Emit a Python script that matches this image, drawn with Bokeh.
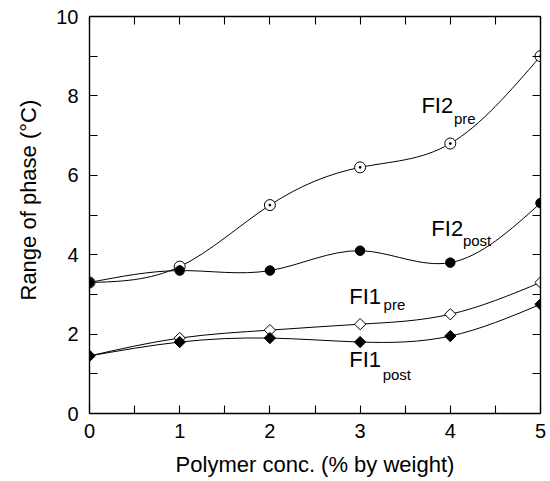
import numpy as np
from bokeh.plotting import figure
from bokeh.models import Range1d, LinearAxis, FixedTicker, Label, Title
from bokeh.embed import file_html
from bokeh.resources import INLINE

# ---- data ----
conc = [0, 1, 2, 3, 4, 5]
fi2_pre = [3.3, 3.7, 5.25, 6.2, 6.8, 9.0]
fi2_post = [3.3, 3.6, 3.6, 4.1, 3.8, 5.3]
fi1_pre = [1.45, 1.9, 2.1, 2.25, 2.5, 3.3]
fi1_post = [1.45, 1.8, 1.9, 1.8, 1.95, 2.75]
x_major = [0, 1, 2, 3, 4, 5]
x_minor = [0.5, 1.5, 2.5, 3.5, 4.5]
y_major = [0, 2, 4, 6, 8, 10]
y_minor = [1, 3, 5, 7, 9]
x_title = "Polymer conc. (% by weight)"
y_title = "Range of phase (°C)"

FONT = "Liberation Sans"


def spline_beziers(x, y):
    """Natural cubic spline through the points, returned as cubic Bezier segments."""
    x = np.asarray(x, float)
    y = np.asarray(y, float)
    n = len(x) - 1
    h = np.diff(x)
    A = np.zeros((n + 1, n + 1))
    r = np.zeros(n + 1)
    A[0, 0] = 1.0
    A[n, n] = 1.0
    for i in range(1, n):
        A[i, i - 1] = h[i - 1]
        A[i, i] = 2 * (h[i - 1] + h[i])
        A[i, i + 1] = h[i]
        r[i] = 6 * ((y[i + 1] - y[i]) / h[i] - (y[i] - y[i - 1]) / h[i - 1])
    M = np.linalg.solve(A, r)
    s = (y[1:] - y[:-1]) / h
    dl = s - h * (2 * M[:-1] + M[1:]) / 6
    dr = s + h * (M[:-1] + 2 * M[1:]) / 6
    return dict(
        x0=x[:-1], y0=y[:-1], x1=x[1:], y1=y[1:],
        cx0=x[:-1] + h / 3, cy0=y[:-1] + h / 3 * dl,
        cx1=x[1:] - h / 3, cy1=y[1:] - h / 3 * dr,
    )


p = figure(
    width=550, height=481,
    x_range=Range1d(0, 5), y_range=Range1d(0, 10),
    output_backend="svg", toolbar_location=None,
    min_border_left=89, min_border_right=10,
    min_border_top=16, min_border_bottom=68,
    x_axis_location=None, y_axis_location=None,
)
p.xgrid.visible = False
p.ygrid.visible = False
p.outline_line_color = None
p.background_fill_color = "white"
p.border_fill_color = "white"


def style_axis(ax, show_labels):
    ax.axis_line_color = "black"
    ax.axis_line_width = 1.4
    ax.major_tick_line_color = "black"
    ax.minor_tick_line_color = "black"
    ax.major_tick_line_width = 1.1
    ax.minor_tick_line_width = 1.1
    ax.major_tick_in = 8
    ax.major_tick_out = 0
    ax.minor_tick_in = 8
    ax.minor_tick_out = 0
    if show_labels:
        ax.major_label_text_font = FONT
        ax.major_label_text_font_size = "20px"
        ax.major_label_text_color = "black"
    else:
        ax.major_label_text_font_size = "1px"
        ax.major_label_text_color = None
        ax.major_label_standoff = 0


bottom = LinearAxis(ticker=FixedTicker(ticks=x_major, minor_ticks=x_minor))
style_axis(bottom, True)
bottom.major_label_standoff = 10
bottom.axis_label = x_title
bottom.axis_label_text_font = FONT
bottom.axis_label_text_font_size = "22px"
bottom.axis_label_text_font_style = "normal"
bottom.axis_label_text_color = "black"
bottom.axis_label_standoff = 11
p.add_layout(bottom, "below")

left = LinearAxis(ticker=FixedTicker(ticks=y_major, minor_ticks=y_minor))
style_axis(left, True)
left.major_label_standoff = 11
p.add_layout(left, "left")

top = LinearAxis(ticker=FixedTicker(ticks=x_major, minor_ticks=x_minor))
style_axis(top, False)
p.add_layout(top, "above")

right = LinearAxis(ticker=FixedTicker(ticks=list(range(0, 11)), minor_ticks=[]))
style_axis(right, False)
p.add_layout(right, "right")

# y-axis title, starting a little above the bottom of the frame as in the reference
p.add_layout(Title(text=y_title, align="left", offset=113,
                   text_font=FONT, text_font_size="22px", text_font_style="normal",
                   text_color="black", standoff=26), "left")

# smooth curves
for ys in (fi2_pre, fi2_post, fi1_pre, fi1_post):
    p.bezier(line_color="black", line_width=1.0, **spline_beziers(conc, ys))

# markers
p.scatter(conc, fi2_pre, marker="circle_dot", size=11, fill_color="white",
          line_color="black", line_width=1.0)
p.scatter(conc, fi2_post, marker="circle", size=9.5, fill_color="black",
          line_color="black", line_width=1.0)
p.scatter(conc, fi1_pre, marker="square", angle=np.pi / 4, size=8, fill_color="white",
          line_color="black", line_width=1.0)
p.scatter(conc, fi1_post, marker="square", angle=np.pi / 4, size=8, fill_color="black",
          line_color="black", line_width=1.0)

# series labels: main text + subscript
series_labels = [
    ("FI2", "pre", 3.68, 7.75, 4.04, 7.42),
    ("FI2", "post", 3.79, 4.65, 4.14, 4.37),
    ("FI1", "pre", 2.88, 2.95, 3.26, 2.75),
    ("FI1", "post", 2.88, 1.36, 3.25, 0.98),
]
for main, sub, mx, my, sx, sy in series_labels:
    p.add_layout(Label(x=mx, y=my, text=main, text_font=FONT, text_font_size="22px",
                       text_color="black", text_baseline="alphabetic"))
    p.add_layout(Label(x=sx, y=sy, text=sub, text_font=FONT, text_font_size="15px",
                       text_color="black", text_baseline="alphabetic"))

open("out.html", "w").write(file_html(p, INLINE))
